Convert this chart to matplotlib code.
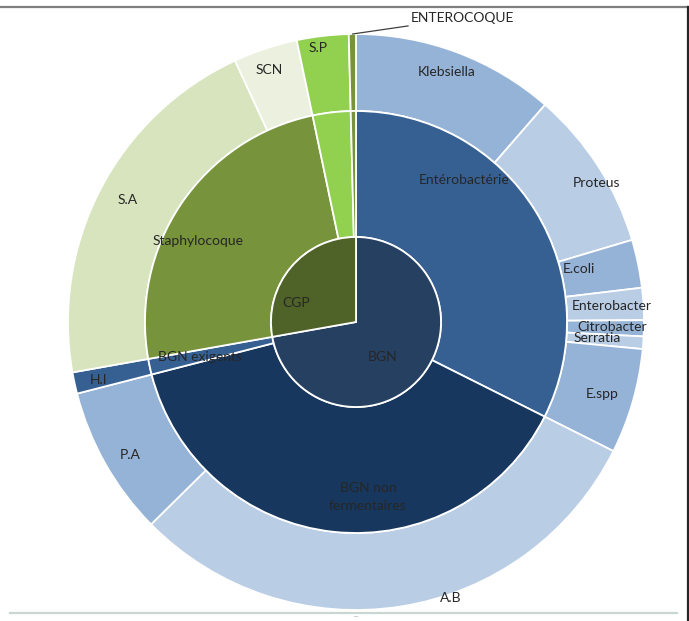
import numpy as np
import matplotlib.pyplot as plt
from matplotlib.lines import Line2D

plt.rcParams['font.family'] = ['Lato', 'DejaVu Sans']

# outer ring: species, clockwise from 12 o'clock (% of isolates)
species = ['Klebsiella', 'Proteus', 'E.coli', 'Enterobacter', 'Citrobacter', 'Serratia', 'E.spp',
           'A.B', 'P.A', 'H.I', 'S.A', 'SCN', 'S.P', 'ENTEROCOQUE']
species_pct = [11.4, 9.0, 2.7, 1.8, 0.9, 0.7, 5.9, 30.2, 8.4, 1.2, 20.9, 3.6, 2.9, 0.4]
species_family = ['Entérobactérie'] * 7 + ['BGN non fermentaires'] * 2 + ['BGN exigents'] + \
                 ['Staphylocoque'] * 2 + ['Streptocoque', 'Entérocoque']

# middle ring: families
families = ['Entérobactérie', 'BGN non fermentaires', 'BGN exigents', 'Staphylocoque', 'Streptocoque', 'Entérocoque']
family_labels = ['Entérobactérie', 'BGN non\nfermentaires', 'BGN exigents', 'Staphylocoque', '', '']
family_group = ['BGN', 'BGN', 'BGN', 'CGP', 'CGP', 'CGP']

# inner ring: gram groups
groups = ['BGN', 'CGP']

family_pct = [sum(p for p, f in zip(species_pct, species_family) if f == fam) for fam in families]
group_pct = [sum(p for p, g in zip(family_pct, family_group) if g == grp) for grp in groups]

species_colors = ['#95B3D7', '#B9CDE5', '#95B3D7', '#B9CDE5', '#95B3D7', '#B9CDE5', '#95B3D7',
                  '#B9CDE5', '#95B3D7', '#366092', '#D7E4BD', '#EBF1DE', '#92D050', '#77933C']
family_colors = ['#376092', '#17375E', '#376092', '#77933C', '#92D050', '#77933C']
group_colors = ['#254061', '#4F6228']

# label anchors in pixels relative to the centre (x right, y up)
label_px = {
    'BGN': (27, -35), 'CGP': (-60, 19),
    'Entérobactérie': (108, 142), 'BGN non fermentaires': (12, -175),
    'BGN exigents': (-156, -35), 'Staphylocoque': (-158, 81),
    'Klebsiella': (91, 250), 'Proteus': (241, 139), 'E.coli': (223, 53),
    'Enterobacter': (256, 16), 'Citrobacter': (256, -5), 'Serratia': (241, -16),
    'E.spp': (246, -72), 'A.B': (95, -276), 'P.A': (-226, -133), 'H.I': (-258, -58),
    'S.A': (-228, 122), 'SCN': (-87, 252), 'S.P': (-38, 274),
}

W, H = 689, 621
cx, cy = 356, 322
R = 288.0
r_mid = 211 / R
r_in = 85 / R

fig = plt.figure(figsize=(W / 100, H / 100), dpi=100)
ax = fig.add_axes([0, 0, 1, 1])

edge = dict(edgecolor='white', linewidth=1.3)
ax.pie(species_pct, radius=1.0, colors=species_colors, startangle=90, counterclock=False,
       wedgeprops=dict(width=1.0 - r_mid, **edge))
ax.pie(family_pct, radius=r_mid, colors=family_colors, startangle=90, counterclock=False,
       wedgeprops=dict(width=r_mid - r_in, **edge))
ax.pie(group_pct, radius=r_in, colors=group_colors, startangle=90, counterclock=False,
       wedgeprops=edge)

ax.set_xlim(-cx / R, (W - cx) / R)
ax.set_ylim(-(H - cy) / R, cy / R)
ax.set_aspect('auto')
ax.axis('off')

txt = dict(fontsize=10, color='#262626', ha='center', va='center')
for name in groups + species[:-1]:
    dx, dy = label_px[name]
    ax.text(dx / R, dy / R, name, **txt)
for fam, lab in zip(families, family_labels):
    if lab:
        dx, dy = label_px[fam]
        ax.text(dx / R, dy / R, lab, linespacing=1.6, **txt)

# ENTEROCOQUE with leader line
cum = np.cumsum(species_pct)
mid = (cum[-1] - species_pct[-1] / 2) / cum[-1] * 360
theta = np.deg2rad(mid)
ax.annotate('ENTEROCOQUE', xy=(np.sin(theta) * 1.0, np.cos(theta) * 1.0),
            xytext=(55 / R, 304 / R), fontsize=10, color='#262626', ha='left', va='center',
            arrowprops=dict(arrowstyle='-', color='#404040', lw=0.9, shrinkA=0, shrinkB=0))

# frame remnants of the original screenshot
fig.add_artist(Line2D([0, 1], [1 - 7 / H, 1 - 7 / H], color='#7F7F7F', lw=1.6))
fig.add_artist(Line2D([1 - 1.5 / W, 1 - 1.5 / W], [0, 1 - 7 / H], color='#262626', lw=1.6))
fig.add_artist(Line2D([10 / W, 677 / W], [1 - 613 / H, 1 - 613 / H], color='#C9D6D2', lw=1.6))
fig.text(cx / W, 1 - 617 / H, '····', fontsize=4, color='#999999', ha='center', va='center')

fig.savefig('out.png', dpi=100)
